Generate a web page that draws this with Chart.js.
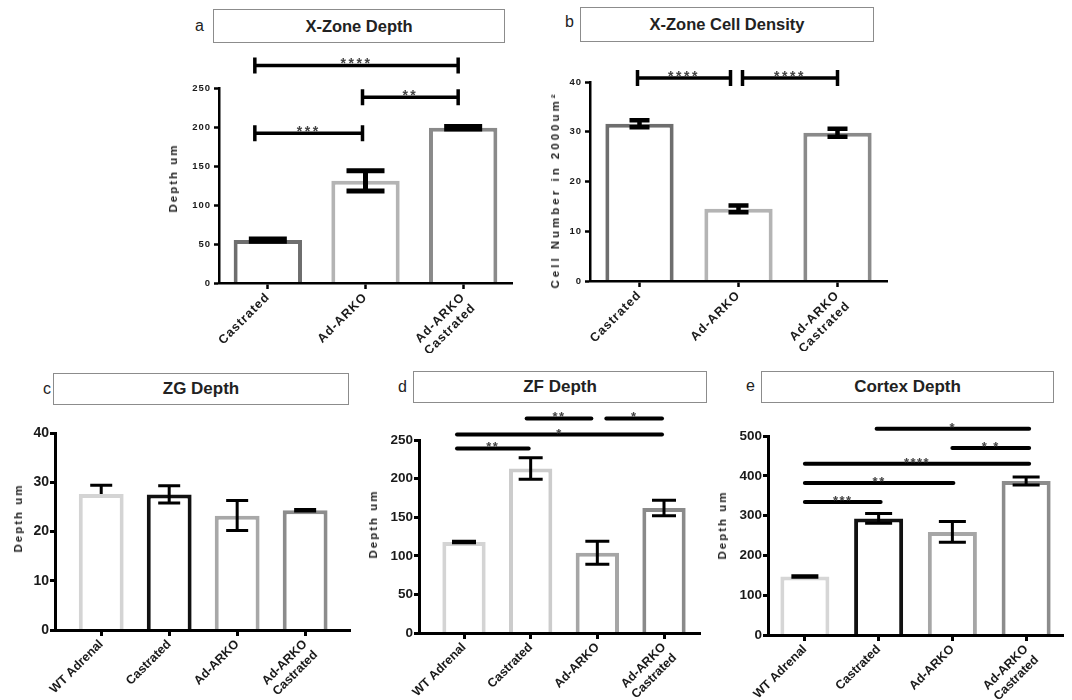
<!DOCTYPE html>
<html lang="en">
<head>
<meta charset="utf-8">
<title>X-Zone, ZG, ZF and Cortex depth</title>
<script src="https://cdn.jsdelivr.net/npm/chart.js@4.4.1/dist/chart.umd.min.js"></script>
<style>
  html, body { margin: 0; padding: 0; background: #fff; }
  body { position: relative; width: 1072px; height: 700px; overflow: hidden;
         font-family: "Liberation Sans", Arial, sans-serif; color: #222; }
  canvas { position: absolute; }
  .letter { position: absolute; font-size: 16px; line-height: 1; }
  .box { position: absolute; box-sizing: border-box; border: 1.5px solid #8c8c8c;
         display: flex; align-items: center; justify-content: center; font-weight: bold; }
  .ytitle { position: absolute; white-space: nowrap; font-weight: bold; font-size: 11.5px;
            transform: translate(-50%, -50%) rotate(-90deg); }
</style>
</head>
<body>
<canvas id="chartA"></canvas>
<canvas id="chartB"></canvas>
<canvas id="chartC"></canvas>
<canvas id="chartD"></canvas>
<canvas id="chartE"></canvas>

<div class="letter" style="left:195px;top:18px">a</div>
<div class="box" style="left:213px;top:9px;width:292px;height:34px;font-size:16.5px">X-Zone Depth</div>
<div class="ytitle" style="left:173px;top:178px;letter-spacing:2px">Depth um</div>

<div class="letter" style="left:565px;top:14px">b</div>
<div class="box" style="left:580px;top:7px;width:294px;height:35px;font-size:16.5px">X-Zone Cell Density</div>
<div class="ytitle" style="left:555px;top:190px;letter-spacing:3px">Cell Number in 2000um²</div>

<div class="letter" style="left:43px;top:381px">c</div>
<div class="box" style="left:53px;top:373px;width:296px;height:32px;font-size:17px">ZG Depth</div>
<div class="ytitle" style="left:18px;top:518px;letter-spacing:2px">Depth um</div>

<div class="letter" style="left:398px;top:379px">d</div>
<div class="box" style="left:413px;top:371px;width:294px;height:32px;font-size:17px">ZF Depth</div>
<div class="ytitle" style="left:373px;top:524px;letter-spacing:2px">Depth um</div>

<div class="letter" style="left:746px;top:378px">e</div>
<div class="box" style="left:761px;top:371px;width:293px;height:32px;font-size:17px">Cortex Depth</div>
<div class="ytitle" style="left:722px;top:525px;letter-spacing:2px">Depth um</div>

<script>
// groups
const groups3 = ['Castrated', 'Ad-ARKO', ['Ad-ARKO', 'Castrated']];
const groups4 = ['WT Adrenal', 'Castrated', 'Ad-ARKO', ['Ad-ARKO', 'Castrated']];

// a - X-Zone depth (um), mean and SEM
const xzDepth = [55, 131, 199];
const xzDepthSem = [1.5, 13, 1.5];
// b - X-Zone cell density (cells in 2000 um2)
const xzDensity = [31.6, 14.5, 29.8];
const xzDensitySem = [0.7, 0.7, 0.8];
// c - ZG depth, WT bar only shows the upper half of its error bar
const zgDepth = [27.6, 27.5, 23.2, 24.3];
const zgDepthErrLow = [0, 1.7, 3, 0.15];
const zgDepthErrHigh = [1.8, 1.8, 3.1, 0.15];
// d - ZF depth
const zfDepth = [118, 213, 104, 162];
const zfDepthSem = [1, 14, 15, 10];
// e - cortex depth
const cortexDepth = [147, 293, 259, 387];
const cortexDepthSem = [2, 12, 26, 10];

// significance brackets: [from group, to group, stars] and their height in axis units
const xzDepthSig = [[0, 1, '***'], [1, 2, '**'], [0, 2, '****']];
const xzDepthSigLevel = [192, 238, 279];
const xzDensitySig = [[0, 1, '****'], [1, 2, '****']];
const xzDensitySigLevel = [40.8, 40.8];
const zfSig = [[0, 1, '**'], [0, 3, '*'], [1, 2, '**'], [2, 3, '*']];
const zfSigLevel = [239, 257, 278, 278];
const cortexSig = [[0, 1, '***'], [0, 2, '**'], [0, 3, '****'], [2, 3, '* *'], [1, 3, '*']];
const cortexSigLevel = [334, 382, 430, 470, 518];

Chart.defaults.font.family = '"Liberation Sans", Arial, sans-serif';

function errorBars(values, low, high, st) {
  return {
    id: 'errorBars',
    afterDatasetsDraw(chart) {
      const ctx = chart.ctx;
      const ys = chart.scales.y;
      const half = st.cap / 2;
      ctx.save();
      ctx.strokeStyle = '#000';
      ctx.lineWidth = st.width;
      chart.getDatasetMeta(0).data.forEach((bar, i) => {
        const yl = ys.getPixelForValue(values[i] - low[i]);
        const yh = ys.getPixelForValue(values[i] + high[i]);
        ctx.beginPath();
        ctx.moveTo(bar.x, yl);
        ctx.lineTo(bar.x, yh);
        if (high[i] > 0) { ctx.moveTo(bar.x - half, yh); ctx.lineTo(bar.x + half, yh); }
        if (low[i] > 0) { ctx.moveTo(bar.x - half, yl); ctx.lineTo(bar.x + half, yl); }
        ctx.stroke();
      });
      ctx.restore();
    }
  };
}

function sigBrackets(pairs, levels, st) {
  return {
    id: 'sigBrackets',
    afterDraw(chart) {
      const ctx = chart.ctx;
      const xs = chart.scales.x, ys = chart.scales.y;
      ctx.save();
      pairs.forEach(([a, b, stars], k) => {
        const n = st.nudge[k] || [0, 0];
        const x1 = xs.getPixelForValue(a) + n[0];
        const x2 = xs.getPixelForValue(b) + n[1];
        const y = ys.getPixelForValue(levels[k]);
        ctx.strokeStyle = '#000';
        ctx.lineWidth = st.width;
        ctx.lineCap = st.cap ? 'butt' : 'round';
        ctx.beginPath();
        ctx.moveTo(x1, y);
        ctx.lineTo(x2, y);
        if (st.cap) {
          ctx.moveTo(x1, y - st.cap / 2); ctx.lineTo(x1, y + st.cap / 2);
          ctx.moveTo(x2, y - st.cap / 2); ctx.lineTo(x2, y + st.cap / 2);
        }
        ctx.stroke();
        ctx.fillStyle = '#444';
        ctx.font = st.font;
        ctx.letterSpacing = st.spacing;
        ctx.textAlign = 'center';
        ctx.textBaseline = 'alphabetic';
        ctx.fillText(stars, (x1 + x2) / 2, y + st.dy);
      });
      ctx.restore();
    }
  };
}

function spacing(px) {
  return { id: 'spacing', beforeDraw(chart) { chart.ctx.letterSpacing = px; } };
}

function panel(id, p) {
  const cv = document.getElementById(id);
  const w = p.yw + (p.area.r - p.area.l) + p.pr;
  const h = p.pt + (p.area.b - p.area.t) + p.xh;
  cv.width = w; cv.height = h;
  cv.style.width = w + 'px'; cv.style.height = h + 'px';
  cv.style.left = (p.area.l - p.yw) + 'px';
  cv.style.top = (p.area.t - p.pt) + 'px';

  new Chart(cv, {
    type: 'bar',
    data: {
      datasets: [{
        data: p.values.map((v, i) => ({ x: i, y: v })),
        backgroundColor: '#fff',
        borderColor: p.colors,
        borderWidth: 4,
        borderSkipped: 'bottom',
        barPercentage: p.barPct,
        categoryPercentage: 1
      }]
    },
    options: {
      responsive: false,
      animation: false,
      devicePixelRatio: 1,
      layout: { padding: { top: p.pt, right: p.pr, left: 0, bottom: 0 } },
      plugins: { legend: { display: false }, tooltip: { enabled: false }, title: { display: false } },
      scales: {
        x: {
          type: 'linear',
          min: p.xmin, max: p.xmax,
          offset: false,
          afterBuildTicks: s => { s.ticks = p.labels.map((_, i) => ({ value: i })); },
          afterFit: s => { s.height = p.xh; s.paddingLeft = 0; s.paddingRight = 0; },
          ticks: {
            autoSkip: false, minRotation: 45, maxRotation: 45, padding: 1,
            color: '#1a1a1a', font: { size: 12.5, weight: 'bold' },
            callback: v => p.labels[Math.round(v)]
          },
          grid: { display: true, offset: false, drawOnChartArea: false, tickLength: 6,
                  tickWidth: p.axisW, tickColor: '#000', color: '#000' },
          border: { display: true, color: '#000', width: p.axisW, z: 1 }
        },
        y: {
          min: 0, max: p.ymax,
          afterFit: s => { s.width = p.yw; s.paddingTop = 0; s.paddingBottom = 0; },
          ticks: { stepSize: p.ystep, padding: p.tickPad, color: '#1a1a1a',
                   font: { size: p.tickFont, weight: 'bold' } },
          grid: { display: true, drawOnChartArea: false, tickLength: 5,
                  tickWidth: p.axisW, tickColor: '#000', color: '#000' },
          border: { display: true, color: '#000', width: p.axisW, z: 1 }
        }
      }
    },
    plugins: [
      spacing(p.letterSpacing),
      errorBars(p.values, p.low, p.high, p.err),
      sigBrackets(p.sig.pairs, p.sig.levels, p.sig)
    ]
  });
}

panel('chartA', {
  labels: groups3, values: xzDepth, low: xzDepthSem, high: xzDepthSem,
  colors: ['#6e6e6e', '#b4b4b4', '#8a8a8a'],
  area: { l: 219, r: 512, t: 88, b: 283 }, yw: 69, pt: 38, pr: 8, xh: 70,
  xmin: -0.5, xmax: 2.5, ymax: 250, ystep: 50, barPct: 0.7,
  tickFont: 9.5, tickPad: 3, letterSpacing: '1px', axisW: 2.5,
  err: { width: 5, cap: 38 },
  sig: { pairs: xzDepthSig, levels: xzDepthSigLevel, width: 3.5, cap: 16,
         font: 'bold 14px "Liberation Sans", Arial', spacing: '2.5px', dy: 3,
         nudge: [[-13, -3], [-3, -5], [-13, -5]] }
});

panel('chartB', {
  labels: groups3, values: xzDensity, low: xzDensitySem, high: xzDensitySem,
  colors: ['#6e6e6e', '#b4b4b4', '#8a8a8a'],
  area: { l: 590, r: 887, t: 82, b: 281 }, yw: 55, pt: 32, pr: 8, xh: 70,
  xmin: -0.5, xmax: 2.5, ymax: 40, ystep: 10, barPct: 0.69,
  tickFont: 9.5, tickPad: 3, letterSpacing: '1px', axisW: 2.5,
  err: { width: 4.5, cap: 20 },
  sig: { pairs: xzDensitySig, levels: xzDensitySigLevel, width: 3.5, cap: 16,
         font: 'bold 14px "Liberation Sans", Arial', spacing: '2.5px', dy: 3,
         nudge: [[-2, -8], [4, 0]] }
});

panel('chartC', {
  labels: groups4, values: zgDepth, low: zgDepthErrLow, high: zgDepthErrHigh,
  colors: ['#d4d4d4', '#111111', '#a8a8a8', '#8c8c8c'],
  area: { l: 55, r: 350, t: 433, b: 630 }, yw: 55, pt: 18, pr: 5, xh: 70,
  xmin: -0.68, xmax: 3.66, ymax: 40, ystep: 10, barPct: 0.66,
  tickFont: 14, tickPad: 1, letterSpacing: '0px', axisW: 3,
  err: { width: 3, cap: 22 },
  sig: { pairs: [], levels: [], width: 4, cap: 0, font: 'bold 11px Arial', spacing: '0px', dy: 2, nudge: [] }
});

panel('chartD', {
  labels: groups4, values: zfDepth, low: zfDepthSem, high: zfDepthSem,
  colors: ['#d4d4d4', '#cccccc', '#a6a6a6', '#8a8a8a'],
  area: { l: 419, r: 700, t: 440, b: 633 }, yw: 57, pt: 30, pr: 6, xh: 67,
  xmin: -0.675, xmax: 3.54, ymax: 250, ystep: 50, barPct: 0.65,
  tickFont: 13.5, tickPad: 1, letterSpacing: '0px', axisW: 3,
  err: { width: 3, cap: 24 },
  sig: { pairs: zfSig, levels: zfSigLevel, width: 4, cap: 0,
         font: 'bold 13px "Liberation Sans", Arial', spacing: '1.5px', dy: 3,
         nudge: [[-7, -2], [-7, -2], [-4, -6], [9, -2]] }
});

panel('chartE', {
  labels: groups4, values: cortexDepth, low: cortexDepthSem, high: cortexDepthSem,
  colors: ['#d6d6d6', '#111111', '#a6a6a6', '#8c8c8c'],
  area: { l: 768, r: 1063, t: 436, b: 635 }, yw: 56, pt: 31, pr: 6, xh: 65,
  xmin: -0.5, xmax: 3.5, ymax: 500, ystep: 100, barPct: 0.665,
  tickFont: 13.5, tickPad: 1, letterSpacing: '0px', axisW: 3,
  err: { width: 3, cap: 27 },
  sig: { pairs: cortexSig, levels: cortexSigLevel, width: 4, cap: 0,
         font: 'bold 13px "Liberation Sans", Arial', spacing: '1.5px', dy: 3,
         nudge: [[0, 2], [0, 1], [0, 3], [0, 3], [-2, 3]] }
});
</script>
</body>
</html>
